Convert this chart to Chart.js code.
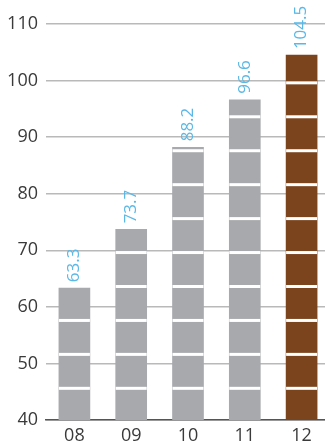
<!DOCTYPE html>
<html>
<head>
<meta charset="utf-8">
<script src="https://cdn.jsdelivr.net/npm/chart.js@4"></script>
<style>
  html, body { margin: 0; padding: 0; background: #fff; overflow: hidden; }
  #wrap { width: 330px; height: 442px; }
</style>
</head>
<body>
<div id="wrap"><canvas id="barChart" width="330" height="442"></canvas></div>
<script>
const years = ['08', '09', '10', '11', '12'];
const values = [63.3, 73.7, 88.2, 96.6, 104.5];
const yTicks = [40, 50, 60, 70, 80, 90, 100, 110];

const grey = '#a7a9ac';
const brown = '#7b441d';
const blue = '#5bb8e6';

// white bands cut across the bars every 6 units
const stripes = {
    id: 'stripes',
    afterDatasetsDraw(chart) {
        const ctx = chart.ctx;
        const y = chart.scales.y;
        const meta = chart.getDatasetMeta(0);
        ctx.save();
        ctx.fillStyle = '#fff';
        meta.data.forEach((bar, i) => {
            const left = bar.x - bar.width / 2;
            for (let v = 45.6; v < values[i]; v += 6) {
                const py = y.getPixelForValue(v);
                ctx.fillRect(left, py - 1.5, bar.width, 3);
            }
        });
        ctx.restore();
    }
};

// rotated value labels above the bars
const valueLabels = {
    id: 'valueLabels',
    afterDatasetsDraw(chart) {
        const ctx = chart.ctx;
        const meta = chart.getDatasetMeta(0);
        ctx.save();
        ctx.fillStyle = blue;
        ctx.font = '17px "Open Sans"';
        ctx.textAlign = 'left';
        ctx.textBaseline = 'middle';
        meta.data.forEach((bar, i) => {
            ctx.save();
            ctx.translate(bar.x, bar.y - 6);
            ctx.rotate(-Math.PI / 2);
            ctx.fillText(values[i].toFixed(1), 0, 0);
            ctx.restore();
        });
        ctx.restore();
    }
};

const ctx = document.getElementById('barChart').getContext('2d');
const barChart = new Chart(ctx, {
    type: 'bar',
    data: {
        labels: years,
        datasets: [{
            data: values,
            backgroundColor: values.map((v, i) => i === values.length - 1 ? brown : grey),
            borderWidth: 0,
            barThickness: 31
        }]
    },
    options: {
        responsive: false,
        animation: false,
        layout: { padding: { top: 24, left: 0, right: 0, bottom: 0 } },
        scales: {
            x: {
                grid: { display: false },
                border: { display: true, color: '#555', width: 1.5 },
                ticks: { color: '#3a3a3a', font: { family: 'Open Sans', size: 18 }, padding: -3 },
                afterFit(scale) { scale.height = 22; }
            },
            y: {
                min: yTicks[0],
                max: yTicks[yTicks.length - 1],
                afterBuildTicks(scale) { scale.ticks = yTicks.map(v => ({ value: v })); },
                grid: { color: '#b9b9b9', lineWidth: 1.5, drawTicks: false },
                border: { display: false },
                ticks: { color: '#3a3a3a', font: { family: 'Open Sans', size: 18 }, padding: 8 },
                afterFit(scale) { scale.width = 46; }
            }
        },
        plugins: {
            legend: { display: false },
            tooltip: { enabled: false }
        }
    },
    plugins: [stripes, valueLabels]
});
</script>
</body>
</html>
